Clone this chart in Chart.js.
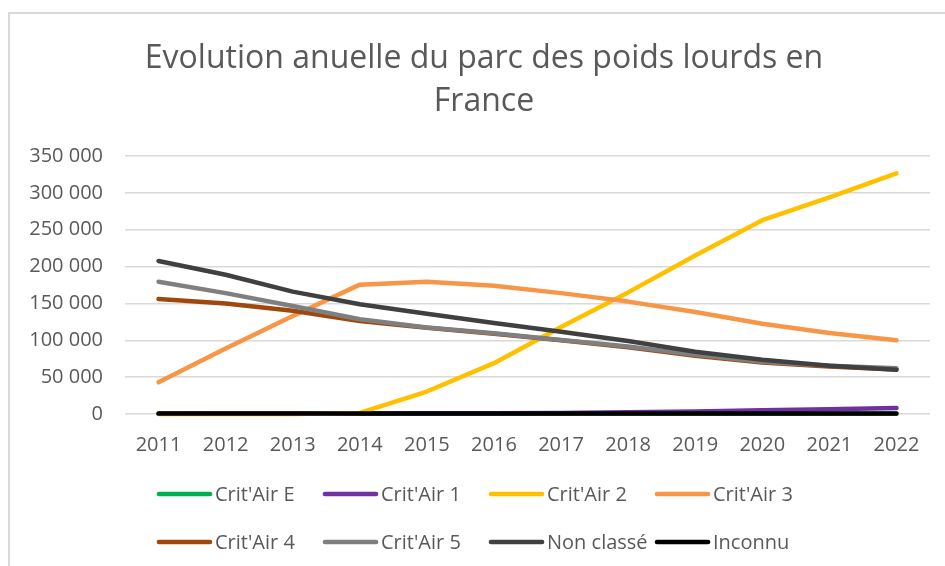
<!DOCTYPE html>
<html>
<head>
<meta charset="utf-8">
<script src="https://cdn.jsdelivr.net/npm/chart.js@4.4.0/dist/chart.umd.min.js"></script>
<style>
    html, body { margin: 0; padding: 0; background: #fff; overflow: hidden; }
    #frame {
        position: absolute; left: 8px; top: 12px;
        width: 935px; height: 552px;
        border-top: 2px solid #d9d9d9; border-left: 2px solid #d9d9d9;
    }
</style>
</head>
<body>
<div id="frame"><canvas id="chart" width="935" height="552"></canvas></div>
<script>
// Years on the x axis
const years = ["2011", "2012", "2013", "2014", "2015", "2016", "2017", "2018", "2019", "2020", "2021", "2022"];

// Number of heavy trucks per Crit'Air class
const critAirE  = [200, 200, 200, 200, 300, 300, 300, 300, 400, 400, 500, 500];
const critAir1  = [500, 600, 700, 800, 900, 1100, 1500, 2300, 3500, 5000, 6500, 8200];
const critAir2  = [0, 0, 0, 1500, 30500, 69000, 118000, 165000, 215000, 263000, 294000, 326500];
const critAir3  = [43000, 89000, 133000, 175500, 179500, 174000, 164000, 152500, 138500, 122500, 110000, 100000];
const critAir4  = [156000, 150000, 140000, 126000, 117000, 109000, 100000, 90500, 79000, 70000, 64500, 60500];
const critAir5  = [179500, 164000, 146500, 128500, 117500, 109500, 100500, 91500, 80500, 71000, 65500, 62000];
const nonClasse = [207500, 189000, 166000, 149000, 136000, 123500, 111500, 99000, 84500, 73500, 65500, 60000];
const inconnu   = [700, 700, 700, 700, 700, 700, 700, 700, 700, 800, 800, 800];

const seriesNames  = ["Crit'Air E", "Crit'Air 1", "Crit'Air 2", "Crit'Air 3", "Crit'Air 4", "Crit'Air 5", "Non classé", "Inconnu"];
const seriesValues = [critAirE, critAir1, critAir2, critAir3, critAir4, critAir5, nonClasse, inconnu];
const seriesColors = ["#00b050", "#7030a0", "#ffc000", "#f79646", "#9e480e", "#7f7f7f", "#404040", "#000000"];

const textColor = "#595959";
const fontFamily = "'Open Sans', Lato, sans-serif";

// Same look as Excel: last series drawn on top
const datasets = seriesNames.map((name, i) => ({
    label: name,
    data: seriesValues[i],
    borderColor: seriesColors[i],
    backgroundColor: seriesColors[i],
    borderWidth: 4.5,
    borderCapStyle: "round",
    borderJoinStyle: "round",
    pointRadius: 0,
    tension: 0,
    clip: false,
    order: seriesNames.length - i
}));

const formatThousands = v => String(v).replace(/\B(?=(\d{3})+(?!\d))/g, " ");

// Excel style legend: 4 equal columns, 2 rows, under the x axis
const gridLegend = {
    id: "gridLegend",
    afterLayout(chart) {
        // title is centred a bit to the right of the canvas middle
        chart.titleBlock.left += 28;
    },
    afterDraw(chart) {
        const c = chart.ctx;
        const left = 147, colWidth = 166, rowTop = 480, rowHeight = 48, lineLen = 55;
        c.save();
        c.font = "20px " + fontFamily;
        c.textBaseline = "middle";
        c.textAlign = "left";
        chart.data.datasets.forEach((ds, i) => {
            const x = left + (i % 4) * colWidth;
            const y = rowTop + Math.floor(i / 4) * rowHeight;
            c.strokeStyle = ds.borderColor;
            c.lineWidth = 4.7;
            c.lineCap = "round";
            c.beginPath();
            c.moveTo(x + 2, y);
            c.lineTo(x + lineLen - 2, y);
            c.stroke();
            c.fillStyle = textColor;
            c.fillText(ds.label, x + lineLen + 3, y + 1);
        });
        c.restore();
    }
};

const ctx = document.getElementById("chart").getContext("2d");
new Chart(ctx, {
    type: "line",
    data: { labels: years, datasets: datasets },
    plugins: [gridLegend],
    options: {
        responsive: false,
        animation: false,
        devicePixelRatio: 1,
        layout: { padding: { left: 0, right: 15, top: 0, bottom: 112 } },
        plugins: {
            title: {
                display: true,
                text: ["Evolution anuelle du parc des poids lourds en", "France"],
                color: textColor,
                font: { family: fontFamily, size: 32, weight: "normal", lineHeight: 1.36 },
                padding: { top: 23, bottom: 32 }
            },
            legend: { display: false },
            tooltip: { enabled: false }
        },
        scales: {
            x: {
                offset: true,
                grid: { display: false },
                border: { display: false },
                ticks: { color: textColor, font: { family: fontFamily, size: 20 }, padding: 11, maxRotation: 0 },
                afterFit: axis => { axis.height = 40; }
            },
            y: {
                min: 0,
                max: 350000,
                grid: { color: "#d9d9d9", lineWidth: 1.5, drawTicks: false },
                border: { display: false },
                ticks: {
                    stepSize: 50000,
                    color: textColor,
                    font: { family: fontFamily, size: 20 },
                    padding: 22,
                    callback: value => formatThousands(value)
                },
                afterFit: axis => { axis.width = 115; }
            }
        }
    }
});
</script>
</body>
</html>
